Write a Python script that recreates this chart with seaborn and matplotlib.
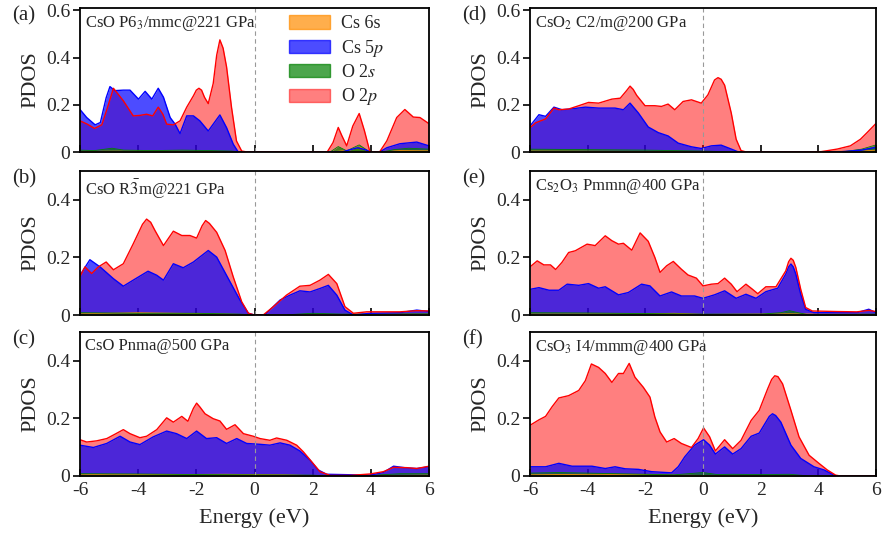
import matplotlib
matplotlib.use("Agg")
import matplotlib.pyplot as plt
from matplotlib.patches import Patch
import seaborn as sns

# ---- (a) CsO P6_3/mmc @ 221 GPa
A_E_O2P = [-6.0, -5.75, -5.5, -5.25, -5.05, -4.85, -4.51, -4.17, -3.94, -3.71, -3.5, -3.31, -3.15, -3.02,
           -2.79, -2.56, -2.33, -2.1, -2.0, -1.91, -1.82, -1.72, -1.59, -1.42, -1.3, -1.19, -1.08, -0.96,
           -0.79, -0.62, -0.44, -0.25, 2.5, 2.7, 2.88, 3.0, 3.17, 3.38, 3.6, 3.78, 3.97, 4.3, 4.55, 4.89,
           5.17, 5.46, 5.69, 6.0]
A_O2P = [0.132, 0.118, 0.10, 0.115, 0.19, 0.27, 0.217, 0.153, 0.155, 0.16, 0.153, 0.19, 0.16, 0.118,
         0.115, 0.132, 0.19, 0.238, 0.262, 0.27, 0.262, 0.232, 0.205, 0.29, 0.41, 0.475, 0.44, 0.36,
         0.189, 0.047, 0.004, 0.0, 0.0, 0.04, 0.104, 0.07, 0.026, 0.11, 0.163, 0.09, 0.0, 0.0, 0.047, 0.146,
         0.18, 0.148, 0.146, 0.12]
A_E_CS5P = [-6.0, -5.77, -5.48, -5.3, -5.1, -4.97, -4.8, -4.51, -4.28, -3.99, -3.76, -3.53, -3.31, -3.13,
            -2.9, -2.73, -2.56, -2.33, -2.1, -1.88, -1.59, -1.19, -0.96, -0.73, -0.56, 3.0, 3.3, 3.55, 3.8,
            4.0, 4.3, 4.55, 5.0, 5.58, 6.0]
A_CS5P = [0.18, 0.146, 0.115, 0.125, 0.23, 0.277, 0.26, 0.262, 0.262, 0.224, 0.257, 0.224, 0.27, 0.232,
          0.146, 0.118, 0.078, 0.153, 0.153, 0.132, 0.089, 0.157, 0.103, 0.033, 0.0, 0.0, 0.01, 0.018, 0.01,
          0.0, 0.0, 0.018, 0.035, 0.042, 0.026]
A_E_O2S = [-6.0, -5.5, -4.9, -4.5, -3.5, -2.5, -1.5, -0.8, -0.5, 2.6, 2.88, 3.17, 3.6, 3.97, 4.4, 4.8, 5.3, 6.0]
A_O2S = [0.008, 0.006, 0.016, 0.008, 0.006, 0.008, 0.006, 0.004, 0.0, 0.0, 0.023, 0.005, 0.03, 0.0, 0.0,
         0.01, 0.016, 0.012]
A_E_CS6S = [-6.0, -4.0, -2.0, -0.5, 2.6, 3.3, 3.6, 3.97, 5.0, 6.0]
A_CS6S = [0.003, 0.004, 0.003, 0.0, 0.0, 0.008, 0.022, 0.0, 0.006, 0.005]

# ---- (b) CsO R-3m @ 221 GPa
B_E_O2P = [-6.0, -5.83, -5.6, -5.37, -5.1, -4.85, -4.51, -4.17, -3.85, -3.71, -3.57, -3.42, -3.13, -2.79,
           -2.5, -2.22, -1.99, -1.8, -1.68, -1.55, -1.3, -1.01, -0.73, -0.44, -0.21, 0.0, 0.3, 0.65, 1.1,
           1.56, 1.91, 2.25, 2.54, 2.83, 3.11, 3.4, 3.86, 4.43, 5.0, 5.58, 6.0]
B_O2P = [0.134, 0.167, 0.144, 0.167, 0.184, 0.157, 0.178, 0.247, 0.315, 0.333, 0.322, 0.293, 0.241, 0.291,
         0.276, 0.276, 0.267, 0.31, 0.328, 0.318, 0.287, 0.224, 0.132, 0.046, 0.006, 0.0, 0.0, 0.029, 0.069,
         0.1, 0.103, 0.121, 0.141, 0.109, 0.029, 0.006, 0.011, 0.011, 0.011, 0.015, 0.014]
B_E_CS5P = [-6.0, -5.66, -5.31, -4.85, -4.51, -4.17, -3.66, -3.36, -3.13, -2.79, -2.45, -2.1, -1.59, -1.3,
            -0.84, -0.5, -0.21, 0.0, 0.35, 0.88, 1.22, 1.56, 1.91, 2.25, 2.54, 2.83, 3.11, 3.4, 4.0, 5.0,
            5.58, 6.0]
B_CS5P = [0.138, 0.192, 0.167, 0.126, 0.10, 0.121, 0.152, 0.138, 0.121, 0.178, 0.164, 0.184, 0.224, 0.201,
          0.115, 0.052, 0.006, 0.0, 0.0, 0.052, 0.069, 0.084, 0.08, 0.092, 0.103, 0.069, 0.017, 0.0, 0.006,
          0.008, 0.017, 0.012]
B_E_O2S = [-6.0, -4.0, -2.0, -0.5, 0.0, 1.0, 2.0, 3.0, 6.0]
B_O2S = [0.008, 0.006, 0.006, 0.003, 0.0, 0.0, 0.006, 0.003, 0.004]
B_E_CS6S = [-6.0, -4.0, -2.0, -0.5, 0.0, 6.0]
B_CS6S = [0.004, 0.008, 0.005, 0.002, 0.0, 0.003]

# ---- (c) CsO Pnma @ 500 GPa
C_E_O2P = [-6.0, -5.77, -5.43, -5.08, -4.8, -4.51, -4.28, -3.94, -3.71, -3.36, -3.02, -2.79, -2.5, -2.29,
           -2.1, -1.99, -1.88, -1.7, -1.42, -1.19, -0.96, -0.67, -0.38, -0.04, 0.19, 0.53, 0.76, 1.11, 1.45,
           1.68, 1.97, 2.25, 2.6, 3.29, 3.97, 4.43, 4.78, 5.23, 5.58, 6.0]
C_O2P = [0.126, 0.118, 0.122, 0.13, 0.145, 0.161, 0.147, 0.133, 0.138, 0.161, 0.202, 0.187, 0.207, 0.19,
         0.235, 0.253, 0.24, 0.216, 0.199, 0.191, 0.162, 0.178, 0.147, 0.138, 0.13, 0.124, 0.132, 0.124,
         0.107, 0.084, 0.049, 0.015, 0.002, 0.002, 0.007, 0.015, 0.03, 0.029, 0.026, 0.034]
C_E_CS5P = [-6.0, -5.54, -5.08, -4.62, -4.28, -3.94, -3.48, -3.02, -2.68, -2.33, -1.99, -1.65, -1.3, -0.96,
            -0.61, -0.27, 0.19, 0.53, 0.88, 1.22, 1.56, 1.91, 2.19, 2.48, 3.97, 4.43, 4.78, 5.23, 5.58, 6.0]
C_CS5P = [0.107, 0.099, 0.113, 0.138, 0.118, 0.109, 0.136, 0.156, 0.147, 0.13, 0.156, 0.13, 0.133, 0.113,
          0.13, 0.113, 0.11, 0.107, 0.115, 0.107, 0.087, 0.055, 0.021, 0.006, 0.003, 0.012, 0.034, 0.028,
          0.026, 0.032]
C_E_O2S = [-6.0, -4.0, -2.0, 0.0, 2.0, 2.5, 4.0, 5.0, 6.0]
C_O2S = [0.008, 0.007, 0.005, 0.004, 0.003, 0.0, 0.002, 0.008, 0.008]
C_E_CS6S = [-6.0, -5.0, -3.0, -1.0, 1.0, 2.5, 6.0]
C_CS6S = [0.004, 0.006, 0.005, 0.006, 0.004, 0.0, 0.003]

# ---- (d) CsO2 C2/m @ 200 GPa
D_E_O2P = [-6.0, -5.8, -5.46, -5.17, -5.0, -4.66, -4.31, -3.97, -3.62, -3.16, -2.87, -2.65, -2.53, -2.42,
           -2.3, -2.01, -1.67, -1.44, -1.21, -0.98, -0.69, -0.4, -0.06, 0.17, 0.4, 0.52, 0.63, 0.75, 0.98,
           1.15, 1.32, 1.5, 3.5, 4.08, 4.66, 5.11, 5.46, 5.69, 6.0]
D_O2P = [0.103, 0.124, 0.14, 0.186, 0.179, 0.182, 0.196, 0.21, 0.207, 0.224, 0.228, 0.26, 0.279, 0.265,
         0.24, 0.196, 0.196, 0.193, 0.203, 0.179, 0.214, 0.221, 0.207, 0.242, 0.305, 0.315, 0.308, 0.283,
         0.165, 0.054, 0.006, 0.0, 0.0, 0.001, 0.0125, 0.026, 0.054, 0.082, 0.121]
D_E_CS5P = [-6.0, -5.69, -5.46, -5.17, -4.89, -4.54, -4.08, -3.62, -3.05, -2.76, -2.53, -2.24, -1.9, -1.55,
            -1.21, -0.86, -0.4, -0.06, 0.29, 0.63, 0.98, 1.21, 1.4, 4.66, 5.5, 6.0]
D_CS5P = [0.11, 0.158, 0.151, 0.19, 0.179, 0.183, 0.19, 0.186, 0.186, 0.179, 0.207, 0.165, 0.106, 0.082,
          0.068, 0.0375, 0.022, 0.015, 0.026, 0.029, 0.0125, 0.001, 0.0, 0.0, 0.008, 0.02]
D_E_O2S = [-6.0, -4.0, -2.0, 0.0, 1.2, 4.8, 5.5, 6.0]
D_O2S = [0.012, 0.01, 0.008, 0.004, 0.0, 0.0, 0.012, 0.03]
D_E_CS6S = [-6.0, -3.0, 0.0, 1.2, 5.5, 6.0]
D_CS6S = [0.004, 0.003, 0.002, 0.0, 0.004, 0.008]

# ---- (e) Cs2O3 Pmmn @ 400 GPa
E_E_O2P = [-6.0, -5.75, -5.52, -5.29, -5.11, -4.89, -4.66, -4.43, -4.02, -3.74, -3.39, -3.16, -2.93, -2.76,
           -2.47, -2.18, -1.9, -1.67, -1.49, -1.26, -1.03, -0.75, -0.52, -0.23, 0.0, 0.29, 0.52, 0.75, 0.98,
           1.18, 1.49, 1.72, 1.9, 2.18, 2.53, 2.87, 2.97, 3.05, 3.13, 3.22, 3.39, 3.56, 3.79, 4.66, 5.34,
           5.75, 6.0]
E_O2P = [0.167, 0.188, 0.174, 0.174, 0.158, 0.183, 0.217, 0.223, 0.246, 0.241, 0.275, 0.258, 0.246, 0.249,
         0.225, 0.285, 0.256, 0.2, 0.148, 0.171, 0.186, 0.159, 0.139, 0.128, 0.101, 0.107, 0.109, 0.128,
         0.107, 0.081, 0.107, 0.089, 0.074, 0.098, 0.098, 0.153, 0.185, 0.197, 0.19, 0.165, 0.089, 0.026,
         0.014, 0.012, 0.011, 0.016, 0.012]
E_E_CS5P = [-6.0, -5.69, -5.34, -5.0, -4.71, -4.31, -3.97, -3.62, -3.39, -2.93, -2.59, -2.13, -1.84, -1.49,
            -1.09, -0.75, -0.29, 0.0, 0.4, 0.75, 1.15, 1.49, 1.84, 2.18, 2.59, 2.87, 2.97, 3.05, 3.13, 3.22,
            3.39, 3.56, 3.85, 4.66, 5.34, 5.75, 6.0]
E_CS5P = [0.089, 0.095, 0.086, 0.086, 0.107, 0.103, 0.109, 0.093, 0.098, 0.07, 0.078, 0.107, 0.101, 0.066,
          0.08, 0.066, 0.066, 0.058, 0.07, 0.084, 0.058, 0.072, 0.058, 0.081, 0.093, 0.142, 0.167, 0.177,
          0.167, 0.142, 0.072, 0.02, 0.008, 0.008, 0.008, 0.02, 0.008]
E_E_O2S = [-6.0, -4.0, -2.0, 0.0, 2.0, 2.7, 3.0, 3.3, 3.6, 6.0]
E_O2S = [0.008, 0.007, 0.005, 0.003, 0.003, 0.008, 0.015, 0.008, 0.002, 0.003]
E_E_CS6S = [-6.0, -2.0, -1.0, 0.0, 3.0, 6.0]
E_CS6S = [0.003, 0.004, 0.006, 0.002, 0.004, 0.002]

# ---- (f) CsO3 I4/mmm @ 400 GPa
F_E_O2P = [-6.0, -5.69, -5.46, -5.23, -5.0, -4.66, -4.31, -4.08, -3.87, -3.62, -3.39, -3.16, -2.93, -2.76,
           -2.56, -2.36, -2.07, -1.84, -1.67, -1.49, -1.26, -1.0, -0.75, -0.4, -0.17, 0.02, 0.23, 0.43, 0.75,
           1.03, 1.32, 1.67, 1.95, 2.24, 2.38, 2.49, 2.6, 2.76, 3.05, 3.33, 3.68, 4.02, 4.31, 4.6, 4.77, 6.0]
F_O2P = [0.176, 0.195, 0.207, 0.241, 0.271, 0.279, 0.297, 0.331, 0.389, 0.377, 0.356, 0.325, 0.356, 0.356,
         0.391, 0.343, 0.308, 0.274, 0.205, 0.153, 0.118, 0.13, 0.113, 0.099, 0.13, 0.167, 0.136, 0.087,
         0.126, 0.095, 0.124, 0.193, 0.228, 0.302, 0.335, 0.348, 0.345, 0.32, 0.228, 0.136, 0.072, 0.044,
         0.021, 0.003, 0.0, 0.0]
F_E_CS5P = [-6.0, -5.46, -5.0, -4.54, -3.85, -3.39, -3.05, -2.7, -2.24, -1.78, -1.09, -0.86, -0.63, -0.29,
            0.02, 0.23, 0.43, 0.75, 1.03, 1.32, 1.67, 1.95, 2.18, 2.3, 2.41, 2.52, 2.7, 3.05, 3.39, 3.85, 4.2,
            4.6, 6.0]
F_CS5P = [0.032, 0.032, 0.044, 0.034, 0.034, 0.026, 0.032, 0.025, 0.023, 0.015, 0.011, 0.032, 0.067, 0.107,
          0.126, 0.107, 0.076, 0.101, 0.076, 0.095, 0.138, 0.149, 0.187, 0.207, 0.216, 0.21, 0.187, 0.107,
          0.061, 0.032, 0.021, 0.0, 0.0]
F_E_O2S = [-6.0, -5.0, -3.0, -1.0, 0.0, 0.5, 1.0, 2.0, 3.0, 3.7, 6.0]
F_O2S = [0.01, 0.012, 0.008, 0.004, 0.012, 0.005, 0.006, 0.005, 0.006, 0.0, 0.0]
F_E_CS6S = [-6.0, -4.0, -2.0, -1.0, 0.0, 3.5, 6.0]
F_CS6S = [0.004, 0.006, 0.005, 0.003, 0.002, 0.0, 0.0]

TITLES = ["CsO P6$_3$/mmc@221 GPa", r"CsO R$\bar{3}$m@221 GPa", "CsO Pnma@500 GPa",
          "CsO$_2$ C2/m@200 GPa", "Cs$_2$O$_3$ Pmmn@400 GPa", "CsO$_3$ I4/mmm@400 GPa"]
LETTERS = ["(a)", "(b)", "(c)", "(d)", "(e)", "(f)"]
LEGEND_LABELS = ["Cs 6s", "Cs 5$p$", "O 2$s$", "O 2$p$"]
X_TICKS = [-6, -4, -2, 0, 2, 4, 6]
X_TICK_LABELS = ["-6", "-4", "-2", "0", "2", "4", "6"]

PANELS = [
    (A_E_O2P, A_O2P, A_E_CS5P, A_CS5P, A_E_O2S, A_O2S, A_E_CS6S, A_CS6S),
    (B_E_O2P, B_O2P, B_E_CS5P, B_CS5P, B_E_O2S, B_O2S, B_E_CS6S, B_CS6S),
    (C_E_O2P, C_O2P, C_E_CS5P, C_CS5P, C_E_O2S, C_O2S, C_E_CS6S, C_CS6S),
    (D_E_O2P, D_O2P, D_E_CS5P, D_CS5P, D_E_O2S, D_O2S, D_E_CS6S, D_CS6S),
    (E_E_O2P, E_O2P, E_E_CS5P, E_CS5P, E_E_O2S, E_O2S, E_E_CS6S, E_CS6S),
    (F_E_O2P, F_O2P, F_E_CS5P, F_CS5P, F_E_O2S, F_O2S, F_E_CS6S, F_CS6S),
]

sns.set_style("ticks")
plt.rcParams["font.family"] = ["Liberation Serif", "DejaVu Serif"]
plt.rcParams["mathtext.fontset"] = "stix"

C_RED, C_BLUE, C_GREEN, C_ORANGE = "#ff0000", "#0000ff", "#008000", "#ff8c00"

fig = plt.figure(figsize=(8.83, 5.35), dpi=100)
W, H = 883.0, 535.0
col_left = [80, 530]
col_width = [349, 346]
row_top = [8, 171, 332]
ax_h = 144

for i, data in enumerate(PANELS):
    col, row = i // 3, i % 3
    x0, top = col_left[col], row_top[row]
    ax = fig.add_axes([x0 / W, 1 - (top + ax_h) / H, col_width[col] / W, ax_h / H])
    e_o2p, o2p, e_cs5p, cs5p, e_o2s, o2s, e_cs6s, cs6s = data

    # red first, blue over it: gives the purple overlap of the original
    ax.fill_between(e_o2p, 0, o2p, color=C_RED, alpha=0.5, lw=0)
    ax.fill_between(e_cs5p, 0, cs5p, color=C_BLUE, alpha=0.7, lw=0)
    ax.fill_between(e_cs6s, 0, cs6s, color=C_ORANGE, alpha=0.7, lw=0)
    ax.fill_between(e_o2s, 0, o2s, color=C_GREEN, alpha=0.7, lw=0)
    sns.lineplot(x=e_cs6s, y=cs6s, ax=ax, color=C_ORANGE, linewidth=0.6, estimator=None, sort=False)
    sns.lineplot(x=e_o2s, y=o2s, ax=ax, color=C_GREEN, linewidth=0.6, estimator=None, sort=False)
    sns.lineplot(x=e_cs5p, y=cs5p, ax=ax, color=C_BLUE, linewidth=1.0, estimator=None, sort=False)
    sns.lineplot(x=e_o2p, y=o2p, ax=ax, color=C_RED, linewidth=1.0, estimator=None, sort=False)

    ax.axvline(0, color="#999999", lw=0.8, ls=(0, (4, 3)), zorder=5)

    ax.set_xlim(-6, 6)
    if row == 0:
        ax.set_ylim(0, 0.61)
        yt = [0, 0.2, 0.4, 0.6]
    else:
        ax.set_ylim(0, 0.5)
        yt = [0, 0.2, 0.4]
    ax.set_yticks(yt)
    ax.set_yticklabels(["0", "0.2", "0.4", "0.6"][:len(yt)])
    ax.set_xticks(X_TICKS)
    if row == 2:
        ax.set_xticklabels(X_TICK_LABELS)
        ax.set_xlabel("Energy (eV)", fontsize=16, labelpad=7)
    else:
        ax.set_xticklabels([])
        ax.set_xlabel("")
    ax.set_ylabel("PDOS", fontsize=16, labelpad=4)
    ax.tick_params(axis="x", direction="in", length=5, width=1.2, labelsize=14, pad=4, color="black")
    ax.tick_params(axis="y", direction="out", length=5, width=1.2, labelsize=14, pad=2, color="black")
    for sp in ax.spines.values():
        sp.set_visible(True)
        sp.set_color("black")
        sp.set_linewidth(1.3)
        sp.set_zorder(6)

    ax.text(0.015, 0.955, TITLES[i], transform=ax.transAxes, ha="left", va="top", fontsize=12)
    lx = 12 if col == 0 else 462
    fig.text(lx / W, 1 - (top + 8) / H, LETTERS[i], fontsize=15, va="center", ha="left")

    if i == 0:
        handles = [
            Patch(facecolor=C_ORANGE, edgecolor=C_ORANGE, alpha=0.7),
            Patch(facecolor=C_BLUE, edgecolor=C_BLUE, alpha=0.7),
            Patch(facecolor=C_GREEN, edgecolor=C_GREEN, alpha=0.7),
            Patch(facecolor=C_RED, edgecolor=C_RED, alpha=0.5),
        ]
        ax.legend(handles, LEGEND_LABELS, loc="upper left", bbox_to_anchor=(0.577, 1.0),
                  frameon=False, fontsize=13, handlelength=2.3, handleheight=0.75,
                  labelspacing=0.3, handletextpad=0.6, borderpad=0.4, borderaxespad=0)

fig.savefig("out.png", dpi=100)
